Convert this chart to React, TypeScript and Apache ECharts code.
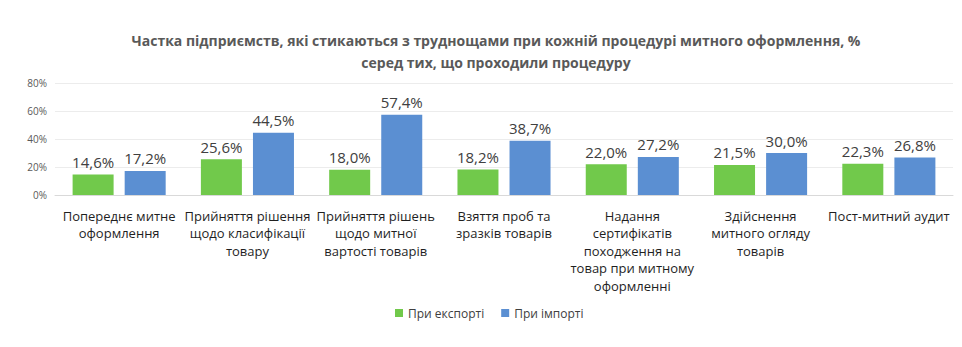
import React, { useEffect, useRef } from "react";
import * as echarts from "echarts";

const titleText =
  "Частка підприємств, які стикаються з труднощами при кожній процедурі митного оформлення, %\nсеред тих, що проходили процедуру";

const categories = [
  "Попереднє митне\nоформлення",
  "Прийняття рішення\nщодо класифікації\nтовару",
  "Прийняття рішень\nщодо митної\nвартості товарів",
  "Взяття проб та\nзразків товарів",
  "Надання\nсертифікатів\nпоходження на\nтовар при митному\nоформленні",
  "Здійснення\nмитного огляду\nтоварів",
  "Пост-митний аудит",
];

const seriesNames = ["При експорті", "При імпорті"];
const exportValues = [14.6, 25.6, 18.0, 18.2, 22.0, 21.5, 22.3];
const importValues = [17.2, 44.5, 57.4, 38.7, 27.2, 30.0, 26.8];
const yTicks = [0, 20, 40, 60, 80];

const GREEN = "#71c94b";
const BLUE = "#5b8fd2";
const FONT = "'Open Sans', 'Noto Sans', sans-serif";

const fmt = (v: number) => v.toFixed(1).replace(".", ",") + "%";

export default function App() {
  const ref = useRef<HTMLDivElement>(null);
  useEffect(() => {
    const chart = echarts.init(ref.current!, null, { renderer: "svg" });
    const label = {
      show: true,
      position: "top" as const,
      distance: 5,
      color: "#404040",
      fontSize: 15,
      fontFamily: FONT,
      formatter: (p: any) => fmt(p.value),
    };
    chart.setOption({
      animation: false,
      backgroundColor: "#ffffff",
      textStyle: { fontFamily: FONT },
      title: {
        text: titleText,
        left: 491,
        textAlign: "center",
        top: 24,
        textStyle: {
          fontSize: 14,
          fontWeight: "bold",
          color: "#595959",
          lineHeight: 22,
          fontFamily: FONT,
        },
      },
      legend: {
        data: seriesNames,
        top: 302,
        left: 390,
        itemWidth: 8,
        itemHeight: 8,
        itemGap: 17,
        icon: "rect",
        textStyle: { fontSize: 12, color: "#404040", fontFamily: FONT },
      },
      grid: { left: 55, right: 9, top: 83, bottom: 152, containLabel: false },
      xAxis: {
        type: "category",
        data: categories,
        axisTick: { show: false },
        axisLine: { lineStyle: { color: "#d9d9d9" } },
        axisLabel: {
          interval: 0,
          margin: 12,
          color: "#1f1f1f",
          fontSize: 13,
          lineHeight: 17.5,
          fontFamily: FONT,
        },
      },
      yAxis: {
        type: "value",
        min: yTicks[0],
        max: yTicks[yTicks.length - 1],
        interval: 20,
        axisLabel: {
          formatter: (v: number) => v + "%",
          color: "#595959",
          fontSize: 10,
          margin: 8,
          fontFamily: FONT,
        },
        splitLine: { lineStyle: { color: "#ececec" } },
      },
      series: [
        {
          name: seriesNames[0],
          type: "bar",
          data: exportValues,
          itemStyle: { color: GREEN },
          barWidth: 41,
          barGap: "27%",
          label,
        },
        {
          name: seriesNames[1],
          type: "bar",
          data: importValues,
          itemStyle: { color: BLUE },
          barWidth: 41,
          label,
        },
      ],
    });
    return () => chart.dispose();
  }, []);
  return (
    <div
      ref={ref}
      style={{ position: "fixed", left: 0, top: 0, width: 962, height: 347 }}
    />
  );
}
